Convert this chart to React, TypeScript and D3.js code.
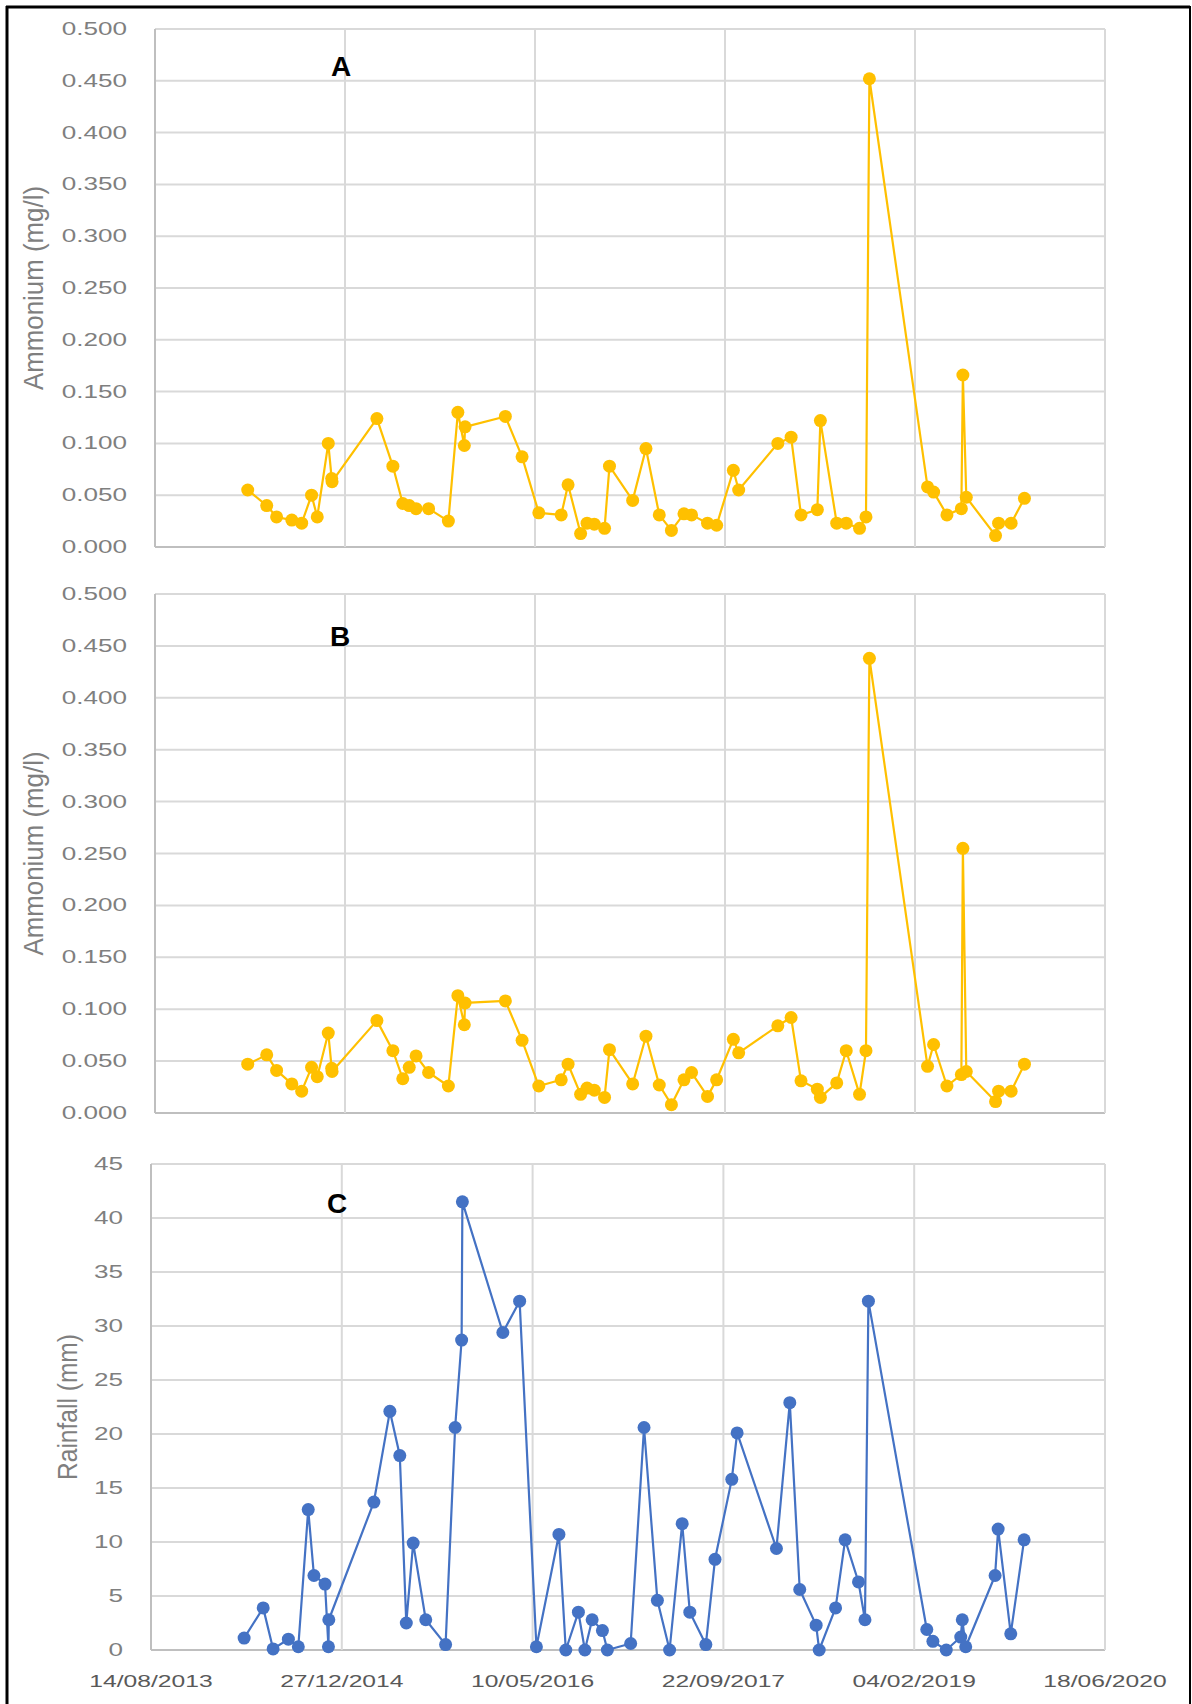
import React from "react";
import * as d3 from "d3";

const WIDTH = 1192;
const HEIGHT = 1704;
const FONT = "'Liberation Sans', Arial, sans-serif";

// sampling dates shared by the three panels
const sampleDates = [
  "2014-04-15", "2014-06-04", "2014-06-30", "2014-08-09", "2014-09-04",
  "2014-09-30", "2014-10-15", "2014-11-13", "2014-11-22", "2014-11-23",
  "2015-03-21", "2015-05-02", "2015-05-28", "2015-06-14", "2015-07-02",
  "2015-08-04", "2015-09-25", "2015-10-20", "2015-11-06", "2015-11-08",
  "2016-02-22", "2016-04-06", "2016-05-20", "2016-07-18", "2016-08-05",
  "2016-09-07", "2016-09-24", "2016-10-13", "2016-11-09", "2016-11-22",
  "2017-01-22", "2017-02-26", "2017-04-02", "2017-05-04", "2017-06-06",
  "2017-06-26", "2017-08-07", "2017-08-31", "2017-10-14", "2017-10-28",
  "2018-02-08", "2018-03-15", "2018-04-10", "2018-05-23", "2018-05-31",
  "2018-07-13", "2018-08-07", "2018-09-11", "2018-09-28", "2018-10-07",
  "2019-03-09", "2019-03-25", "2019-04-29", "2019-06-06", "2019-06-10",
  "2019-06-19", "2019-09-04", "2019-09-12", "2019-10-15", "2019-11-19",
];

const ammoniumA = [
  0.055, 0.040, 0.029, 0.026, 0.023, 0.050, 0.029, 0.100, 0.066, 0.063,
  0.124, 0.078, 0.042, 0.040, 0.037, 0.037, 0.025, 0.130, 0.098, 0.116,
  0.126, 0.087, 0.033, 0.031, 0.060, 0.013, 0.023, 0.022, 0.018, 0.078,
  0.045, 0.095, 0.031, 0.016, 0.032, 0.031, 0.023, 0.021, 0.074, 0.055,
  0.100, 0.106, 0.031, 0.036, 0.122, 0.023, 0.023, 0.018, 0.029, 0.452,
  0.058, 0.053, 0.031, 0.037, 0.166, 0.048, 0.011, 0.023, 0.023, 0.047,
];

const ammoniumB = [
  0.047, 0.056, 0.041, 0.028, 0.021, 0.044, 0.035, 0.077, 0.043, 0.040,
  0.089, 0.060, 0.033, 0.044, 0.055, 0.039, 0.026, 0.113, 0.085, 0.106,
  0.108, 0.070, 0.026, 0.032, 0.047, 0.018, 0.024, 0.022, 0.015, 0.061,
  0.028, 0.074, 0.027, 0.008, 0.032, 0.039, 0.016, 0.032, 0.071, 0.058,
  0.084, 0.092, 0.031, 0.023, 0.015, 0.029, 0.060, 0.018, 0.060, 0.438,
  0.045, 0.066, 0.026, 0.037, 0.255, 0.040, 0.011, 0.021, 0.021, 0.047,
];

const rainfall = [
  1.1, 3.9, 0.1, 1.0, 0.3, 13.0, 6.9, 6.1, 0.3, 2.8,
  13.7, 22.1, 18.0, 2.5, 9.9, 2.8, 0.5, 20.6, 28.7, 41.5,
  29.4, 32.3, 0.3, 10.7, 0.0, 3.5, 0.0, 2.8, 1.8, 0.0,
  0.6, 20.6, 4.6, 0.0, 11.7, 3.5, 0.5, 8.4, 15.8, 20.1,
  9.4, 22.9, 5.6, 2.3, 0.0, 3.9, 10.2, 6.3, 2.8, 32.3,
  1.9, 0.8, 0.0, 1.2, 2.8, 0.3, 6.9, 11.2, 1.5, 10.2,
];

const dateTickLabels = ["14/08/2013", "27/12/2014", "10/05/2016", "22/09/2017", "04/02/2019", "18/06/2020"];
const ammoniumTicks = [0, 0.05, 0.1, 0.15, 0.2, 0.25, 0.3, 0.35, 0.4, 0.45, 0.5];
const rainTicks = [0, 5, 10, 15, 20, 25, 30, 35, 40, 45];

const parseIso = d3.utcParse("%Y-%m-%d");
const parseTick = d3.utcParse("%d/%m/%Y");
const dates = sampleDates.map((s) => parseIso(s) as Date);
const dateTicks = dateTickLabels.map((s) => parseTick(s) as Date);

const STRETCH = 1.45; // the source's text is drawn wide

type Panel = {
  letter: string;
  values: number[];
  ticks: number[];
  format: (v: number) => string;
  color: string;
  title: string;
  titleLength: number;
  titleX: number;
  box: { left: number; right: number; top: number; bottom: number };
  letterPos: [number, number];
  showDates: boolean;
};

const panels: Panel[] = [
  {
    letter: "A",
    values: ammoniumA,
    ticks: ammoniumTicks,
    format: d3.format(".3f"),
    color: "#FFC000",
    title: "Ammonium (mg/l)",
    titleLength: 204,
    titleX: 34,
    box: { left: 155, right: 1105, top: 29, bottom: 547 },
    letterPos: [341, 76],
    showDates: false,
  },
  {
    letter: "B",
    values: ammoniumB,
    ticks: ammoniumTicks,
    format: d3.format(".3f"),
    color: "#FFC000",
    title: "Ammonium (mg/l)",
    titleLength: 204,
    titleX: 34,
    box: { left: 155, right: 1105, top: 594, bottom: 1113 },
    letterPos: [340, 646],
    showDates: false,
  },
  {
    letter: "C",
    values: rainfall,
    ticks: rainTicks,
    format: d3.format("d"),
    color: "#4472C4",
    title: "Rainfall (mm)",
    titleLength: 146,
    titleX: 68,
    box: { left: 151, right: 1105, top: 1164, bottom: 1650 },
    letterPos: [337, 1213],
    showDates: true,
  },
];

const ChartPanel = ({ p }: { p: Panel }) => {
  const { left, right, top, bottom } = p.box;
  const x = d3.scaleUtc().domain([dateTicks[0], dateTicks[dateTicks.length - 1]]).range([left, right]);
  const y = d3.scaleLinear().domain([p.ticks[0], p.ticks[p.ticks.length - 1]]).range([bottom, top]);
  const line = d3
    .line<number>()
    .x((_, i) => x(dates[i]))
    .y((d) => y(d));
  const midY = (top + bottom) / 2;

  return (
    <g>
      {p.ticks.map((t) => (
        <line key={`h${t}`} x1={left} x2={right} y1={y(t)} y2={y(t)} stroke={t === 0 ? "#bfbfbf" : "#d9d9d9"} strokeWidth={2} />
      ))}
      {dateTicks.map((d, i) => (
        <line key={`v${i}`} x1={x(d)} x2={x(d)} y1={top} y2={bottom} stroke={i === 0 ? "#bfbfbf" : "#d9d9d9"} strokeWidth={2} />
      ))}
      {p.ticks.map((t) => (
        <text
          key={`yl${t}`}
          transform={`translate(${left - 28},${y(t)}) scale(${STRETCH},1)`}
          textAnchor="end"
          dominantBaseline="central"
          fontFamily={FONT}
          fontSize={18}
          fill="#7f7f7f"
        >
          {p.format(t)}
        </text>
      ))}
      {p.showDates &&
        dateTicks.map((d, i) => (
          <text
            key={`xl${i}`}
            transform={`translate(${x(d)},${bottom + 37}) scale(${STRETCH},1)`}
            textAnchor="middle"
            fontFamily={FONT}
            fontSize={17}
            fill="#595959"
          >
            {dateTickLabels[i]}
          </text>
        ))}
      <text
        transform={`translate(${p.titleX},${midY}) scale(${STRETCH},1) rotate(-90)`}
        textAnchor="middle"
        dominantBaseline="central"
        fontFamily={FONT}
        fontSize={19}
        fill="#7f7f7f"
        textLength={p.titleLength}
        lengthAdjust="spacingAndGlyphs"
      >
        {p.title}
      </text>
      <path d={line(p.values) ?? ""} fill="none" stroke={p.color} strokeWidth={2.2} strokeLinejoin="round" />
      {p.values.map((v, i) => (
        <circle key={`m${i}`} cx={x(dates[i])} cy={y(v)} r={6.5} fill={p.color} />
      ))}
      <text
        x={p.letterPos[0]}
        y={p.letterPos[1]}
        textAnchor="middle"
        fontFamily={FONT}
        fontWeight="bold"
        fontSize={28}
        fill="#000"
      >
        {p.letter}
      </text>
    </g>
  );
};

export default function App() {
  return (
    <svg
      width={WIDTH}
      height={HEIGHT}
      style={{ position: "absolute", left: 0, top: 0, display: "block", background: "#fff" }}
    >
      <rect x={0} y={0} width={WIDTH} height={HEIGHT} fill="#fff" />
      {panels.map((p) => (
        <ChartPanel key={p.letter} p={p} />
      ))}
      {/* figure frame */}
      <line x1={7} x2={7} y1={6} y2={HEIGHT} stroke="#000" strokeWidth={3} />
      <line x1={6} x2={1190} y1={7} y2={7} stroke="#000" strokeWidth={3} />
      <line x1={1190} x2={1190} y1={6} y2={HEIGHT} stroke="#000" strokeWidth={2} />
    </svg>
  );
}
